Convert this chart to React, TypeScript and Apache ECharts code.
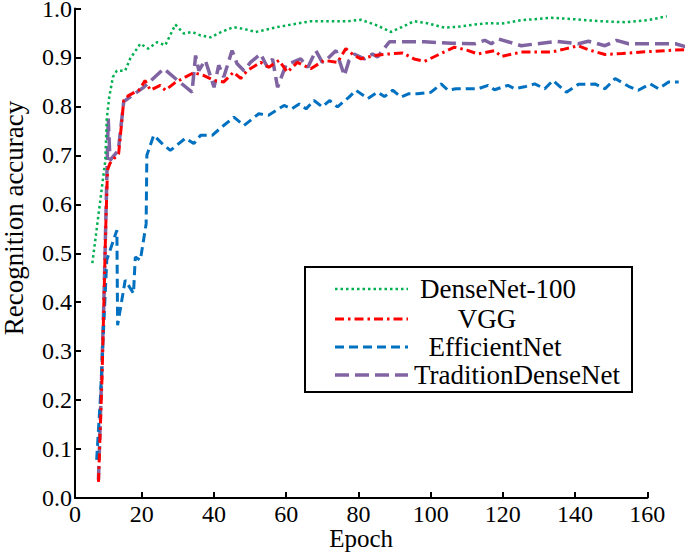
import React, { useEffect, useRef } from "react";
import * as echarts from "echarts";

const denseX = [6.3,7,9.9,10.3,11,12,13.1,15.4,16.8,19.6,21.8,24.2,26.5,29.3,31.6,33.9,36.3,39,42,45.4,48.5,51.5,57.5,62,66.8,72,77,80.7,85.3,89,92,95.4,99,103.8,108,112,116,119.6,125,133.5,140,147,153.8,160,165.4];
const denseY = [0.48,0.52,0.69,0.775,0.82,0.86,0.873,0.873,0.898,0.928,0.918,0.931,0.925,0.967,0.949,0.952,0.945,0.941,0.952,0.962,0.958,0.952,0.962,0.968,0.974,0.974,0.974,0.977,0.965,0.952,0.962,0.974,0.97,0.961,0.963,0.967,0.97,0.969,0.976,0.981,0.978,0.974,0.972,0.976,0.984];

const vggX = [8,9,10,10.5,11.2,13.6,15,16.3,19.1,19.6,20.9,22.4,25.1,26.5,29.3,34.4,37.2,40,42.7,45.4,47.4,49.2,52.9,55.2,58,60.3,63.1,66.8,70.5,74.2,76.5,78.8,80.7,84.4,88.1,92.3,95.4,98.3,102,106.6,110,113.1,117.7,119.6,125.1,133.5,137,140.9,144,148.3,153,158.5,165,170.5];
const vggY = [0.033,0.25,0.55,0.67,0.684,0.704,0.812,0.822,0.833,0.837,0.853,0.833,0.843,0.833,0.849,0.869,0.863,0.853,0.85,0.87,0.857,0.873,0.89,0.88,0.894,0.87,0.89,0.877,0.894,0.89,0.918,0.904,0.897,0.904,0.907,0.909,0.897,0.892,0.905,0.921,0.915,0.907,0.914,0.902,0.911,0.911,0.917,0.924,0.915,0.906,0.908,0.911,0.914,0.916];

const effX = [7.5,8.5,10.3,13.1,13.3,15.4,17.7,18.2,19.6,21.2,21.4,23.3,25.5,27.9,32.1,34.4,36.3,39.5,42.5,45.5,48.3,52.4,55.1,59.4,61.5,63.6,65.5,67.7,70,72,74.2,77.4,79.3,82.6,85.3,87.2,89.5,91.8,94,96.4,100.1,102.9,104.8,107,110.3,113.1,115.9,117.7,121.4,123.3,126,128.8,131.6,133.9,137.6,140.9,143,145.5,148.3,151.1,154.8,157.5,160.8,163.1,165.9,168.7];
const effY = [0.078,0.2,0.486,0.547,0.353,0.445,0.418,0.492,0.486,0.56,0.70,0.741,0.725,0.71,0.735,0.724,0.741,0.741,0.76,0.778,0.761,0.785,0.782,0.802,0.795,0.805,0.795,0.812,0.799,0.812,0.799,0.819,0.833,0.816,0.829,0.82,0.833,0.819,0.826,0.826,0.829,0.846,0.833,0.836,0.836,0.836,0.843,0.834,0.843,0.836,0.84,0.846,0.836,0.853,0.829,0.845,0.845,0.846,0.836,0.857,0.841,0.833,0.846,0.836,0.85,0.85];

const tradX = [8,9.5,10.3,10.7,11.2,13.5,15,15.4,17.3,20.5,26.1,29.3,33.9,34.9,35.8,37.2,37.6,40,41.3,42.7,45,46.4,48.3,50.1,52.9,54.8,56.2,57.6,59.9,61.7,64,66,68.2,70,71.4,73.8,76.1,77.4,78.8,81.6,83.9,85.3,88.6,98.3,105.7,112.2,115,116.8,118.7,125.1,134.9,140.9,143.7,148.3,151.5,154.8,162.2,167.8,170.5];
const tradY = [0.037,0.4,0.65,0.775,0.69,0.71,0.81,0.812,0.822,0.839,0.877,0.857,0.829,0.904,0.873,0.89,0.894,0.839,0.884,0.86,0.914,0.887,0.873,0.89,0.907,0.88,0.897,0.839,0.884,0.89,0.897,0.88,0.914,0.89,0.897,0.914,0.863,0.894,0.907,0.897,0.907,0.901,0.932,0.932,0.929,0.928,0.935,0.928,0.938,0.924,0.933,0.928,0.933,0.924,0.935,0.928,0.928,0.928,0.922];

const xLabelValues = [1.5, 20, 40, 60, 80, 100, 120, 140, 160];
const xTickValues = [20, 40, 60, 80, 100, 120, 140, 160];
const seriesNames = ["DenseNet-100", "VGG", "EfficientNet", "TraditionDenseNet"];

const FONT = '"Liberation Serif", "Times New Roman", serif';

const zip = (xs: number[], ys: number[]) => xs.map((x, i) => [x, ys[i]]);

export default function App() {
  const ref = useRef<HTMLDivElement>(null);
  useEffect(() => {
    if (!ref.current) return;
    const chart = echarts.init(ref.current, undefined, { renderer: "svg" });
    const styles = [
      { color: "#00b050", width: 2.5, dash: [2.5, 3] },
      { color: "#ff0000", width: 3, dash: [9, 4, 2.5, 4] },
      { color: "#0070c0", width: 3, dash: [9, 5] },
      { color: "#8064a2", width: 3.5, dash: [14, 6] },
    ];
    const datas = [zip(denseX, denseY), zip(vggX, vggY), zip(effX, effY), zip(tradX, tradY)];
    const legendYs = [289, 319, 347, 375];
    const legendTextX = [498, 487, 495, 517];

    const axisMin = 1.5;
    const axisMax = 160;
    const dataMax = 171;
    const axisWidth = 572.3;
    const dataWidth = (axisWidth * (dataMax - axisMin)) / (axisMax - axisMin);

    const graphic: any[] = [
      {
        type: "text",
        x: 14,
        y: 218,
        rotation: Math.PI / 2,
        style: {
          text: "Recognition accuracy",
          font: `27px ${FONT}`,
          fill: "#000",
          align: "center",
          verticalAlign: "middle",
        },
      },
      {
        type: "rect",
        shape: { x: 305, y: 267, width: 327, height: 125 },
        style: { fill: "#fff", stroke: "#000", lineWidth: 2 },
        z: 10,
      },
    ];
    seriesNames.forEach((n, i) => {
      graphic.push({
        type: "line",
        shape: { x1: 335, y1: legendYs[i], x2: 408, y2: legendYs[i] },
        style: { stroke: styles[i].color, lineWidth: styles[i].width, lineDash: styles[i].dash },
        z: 11,
      });
      graphic.push({
        type: "text",
        x: legendTextX[i],
        y: legendYs[i],
        style: {
          text: n,
          font: `27px ${FONT}`,
          fill: "#000",
          align: "center",
          verticalAlign: "middle",
        },
        z: 11,
      });
    });

    chart.setOption({
      animation: false,
      backgroundColor: "#fff",
      grid: [
        { left: 75, width: axisWidth, top: 8.5, bottom: 54, outerBoundsMode: "none", containLabel: false },
        { left: 75, width: dataWidth, top: 8.5, bottom: 54, outerBoundsMode: "none", containLabel: false },
      ],
      xAxis: [
        {
          type: "value",
          gridIndex: 0,
          min: axisMin,
          max: axisMax,
          name: "Epoch",
          nameLocation: "middle",
          nameGap: 28,
          nameMoveOverlap: false,
          nameTextStyle: { fontFamily: FONT, fontSize: 25, color: "#000", lineHeight: 24 },
          axisLine: { lineStyle: { color: "#000", width: 2 } },
          axisTick: { inside: true, length: 6, lineStyle: { color: "#000", width: 2 }, customValues: xTickValues },
          axisLabel: {
            customValues: xLabelValues,
            formatter: (v: number) => (v < 10 ? "0" : String(v)),
            fontFamily: FONT,
            fontSize: 24,
            color: "#000",
            margin: 4,
          },
          splitLine: { show: false },
        },
        {
          type: "value",
          gridIndex: 1,
          min: axisMin,
          max: dataMax,
          show: false,
          splitLine: { show: false },
        },
      ],
      yAxis: [
        {
          type: "value",
          gridIndex: 0,
          min: 0,
          max: 1,
          interval: 0.1,
          axisLine: { show: true, lineStyle: { color: "#000", width: 2 } },
          axisTick: { show: true, inside: true, length: 6, lineStyle: { color: "#000", width: 2 } },
          axisLabel: {
            formatter: (v: number) => v.toFixed(1),
            fontFamily: FONT,
            fontSize: 24,
            lineHeight: 16,
            color: "#000",
            margin: 3,
          },
          splitLine: { show: false },
        },
        {
          type: "value",
          gridIndex: 1,
          min: 0,
          max: 1,
          show: false,
          splitLine: { show: false },
        },
      ],
      series: seriesNames.map((n, i) => ({
        name: n,
        type: "line",
        xAxisIndex: 1,
        yAxisIndex: 1,
        data: datas[i],
        showSymbol: false,
        symbol: "none",
        clip: false,
        z: i === 0 ? 5 : 4 - i + 2,
        lineStyle: { color: styles[i].color, width: styles[i].width, type: styles[i].dash },
      })),
      graphic,
    });
    return () => chart.dispose();
  }, []);
  return (
    <div
      ref={ref}
      style={{ position: "absolute", left: 0, top: 0, width: 685, height: 552, background: "#fff" }}
    />
  );
}
